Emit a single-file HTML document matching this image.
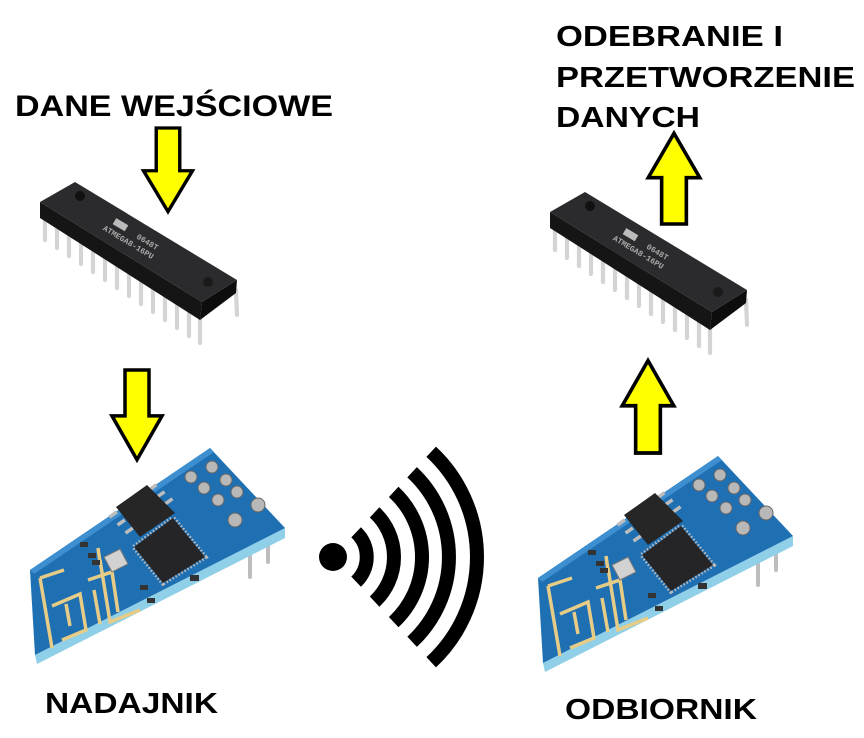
<!DOCTYPE html>
<html><head><meta charset="utf-8"><style>
html,body{margin:0;padding:0;background:#fff;}
svg{display:block;}
text{font-family:"Liberation Sans",sans-serif;font-weight:bold;fill:#000;}
</style></head><body>
<svg width="864" height="738" viewBox="0 0 864 738" xmlns="http://www.w3.org/2000/svg">
<defs>
<g id="chip">
  <g stroke="#d4d4d4" stroke-width="4.2" stroke-linecap="round">
    <line x1="45" y1="210" x2="45" y2="240"/>
    <line x1="57" y1="218" x2="57" y2="248"/>
    <line x1="69" y1="226" x2="69" y2="256"/>
    <line x1="81" y1="234" x2="81" y2="264"/>
    <line x1="93" y1="242" x2="93" y2="272"/>
    <line x1="105" y1="250" x2="105" y2="280"/>
    <line x1="117" y1="258" x2="117" y2="288"/>
    <line x1="129" y1="266" x2="129" y2="296"/>
    <line x1="141" y1="274" x2="141" y2="304"/>
    <line x1="153" y1="282" x2="153" y2="312"/>
    <line x1="165" y1="290" x2="165" y2="320"/>
    <line x1="177" y1="298" x2="177" y2="328"/>
    <line x1="189" y1="306" x2="189" y2="336"/>
    <line x1="200" y1="313" x2="200" y2="343"/>
    <line x1="236" y1="290" x2="237" y2="315"/>
  </g>
  <polygon points="40,202 202,302 200,320 40,218" fill="#151515"/>
  <polygon points="202,302 237,280 236,293 200,320" fill="#0d0d0d"/>
  <polygon points="40,202 75,182 237,280 202,302" fill="#2b2b2e"/>
  <circle cx="80" cy="196" r="5" fill="#111"/>
  <circle cx="208" cy="282" r="5" fill="#1a1a1a"/>
  <g transform="translate(130,238) rotate(31)" fill="#bbb">
    <rect x="-22" y="-10" width="14" height="7"/>
    <text x="-28" y="7" font-size="8" font-weight="normal" style="font-family:'Liberation Mono',monospace;fill:#aaa">ATMEGA8-16PU</text>
    <text x="5" y="-3" font-size="8" font-weight="normal" style="font-family:'Liberation Mono',monospace;fill:#aaa">0648T</text>
  </g>
</g>
<g id="module">
  <g stroke="#bdbdbd" stroke-width="4" stroke-linecap="round">
    <line x1="250" y1="550" x2="250" y2="577"/>
    <line x1="268" y1="540" x2="268" y2="562"/>
  </g>
  <polygon points="35,655 285,528 285,538 37,664" fill="#8fcfe8"/>
  <polygon points="30,570 210,448 285,528 35,655" fill="#1f6fb3"/>
  <polygon points="30,570 210,448 214,452 34,574" fill="#3d8fd0"/>
  <g fill="none" stroke="#e6cc86" stroke-width="3.5">
    <path d="M40,578 L52,648 M40,578 L64,570 M52,606 L80,594 L86,630 L62,640 M66,604 L70,626 M94,590 L100,624 M88,580 L112,572 L118,612 M100,560 L110,622 L140,610 M100,562 L98,548"/>
  </g>
  <g fill="#b8b8b8" stroke="#666" stroke-width="1">
    <circle cx="191" cy="477" r="6"/><circle cx="204" cy="488" r="6"/>
    <circle cx="212" cy="467" r="6"/><circle cx="226" cy="480" r="6"/>
    <circle cx="237" cy="492" r="6"/><circle cx="218" cy="500" r="6"/>
    <circle cx="258" cy="505" r="7"/><circle cx="235" cy="520" r="7"/>
  </g>
  <g fill="#bdbdbd">
    <rect x="148" y="486" width="9" height="3.5" transform="rotate(-35 152 487)"/>
    <rect x="156" y="493" width="9" height="3.5" transform="rotate(-35 160 494)"/>
    <rect x="164" y="500" width="9" height="3.5" transform="rotate(-35 168 501)"/>
    <rect x="108" y="512" width="9" height="3.5" transform="rotate(-35 114 513)"/>
    <rect x="116" y="520" width="9" height="3.5" transform="rotate(-35 122 521)"/>
    <rect x="124" y="528" width="9" height="3.5" transform="rotate(-35 130 529)"/>
  </g>
  <polygon points="116,507 147,485 175,513 140,537" fill="#262626"/>
  <polygon points="134,547 173,518 205,557 163,583" fill="none" stroke="#bbb" stroke-width="5" stroke-dasharray="1.5 2"/>
  <polygon points="134,547 173,518 205,557 163,583" fill="#252528"/>
  <polygon points="104,557 120,549 128,564 112,572" fill="#d2d2d2" stroke="#777"/>
  <g fill="#333">
    <rect x="80" y="542" width="8" height="5"/><rect x="88" y="553" width="8" height="5"/>
    <rect x="92" y="560" width="8" height="5"/><rect x="140" y="585" width="8" height="5"/>
    <rect x="147" y="598" width="8" height="5"/><rect x="190" y="575" width="9" height="6"/>
  </g>
</g>
<g id="arrowDown">
  <polygon points="-12,0 12,0 12,45 25,45 0,88 -25,45 -12,45" fill="#ffff00" stroke="#000" stroke-width="3.5" stroke-linejoin="miter"/>
</g>
</defs>

<text x="15" y="116" font-size="30" textLength="318" lengthAdjust="spacingAndGlyphs">DANE WEJŚCIOWE</text>
<text x="556" y="46" font-size="29" textLength="227" lengthAdjust="spacingAndGlyphs">ODEBRANIE I</text>
<text x="556" y="87" font-size="29" textLength="299" lengthAdjust="spacingAndGlyphs">PRZETWORZENIE</text>
<text x="556" y="127" font-size="29" textLength="144" lengthAdjust="spacingAndGlyphs">DANYCH</text>
<text x="45" y="713" font-size="29" textLength="173" lengthAdjust="spacingAndGlyphs">NADAJNIK</text>
<text x="565" y="719" font-size="29" textLength="192" lengthAdjust="spacingAndGlyphs">ODBIORNIK</text>

<use href="#chip"/>
<use href="#chip" transform="translate(510,10)"/>
<use href="#module"/>
<use href="#module" transform="translate(508,8)"/>

<use href="#arrowDown" transform="translate(168,128) scale(0.98,0.95)"/>
<use href="#arrowDown" transform="translate(137,370) scale(1,1.02)"/>
<use href="#arrowDown" transform="translate(674,224) scale(1.03,-1.03)"/>
<use href="#arrowDown" transform="translate(648,453) scale(1.03,-1.05)"/>

<circle cx="333" cy="557" r="14" fill="#000"/>
<g fill="none" stroke="#000" stroke-width="14">
  <path d="M356.1,532.3 A34,34 0 0 1 356.1,581.7"/>
  <path d="M374.6,512.4 A61,61 0 0 1 374.6,601.6"/>
  <path d="M393.7,491.9 A89,89 0 0 1 393.7,622.1"/>
  <path d="M412.1,472.2 A116,116 0 0 1 412.1,641.8"/>
  <path d="M431.2,451.7 A144,144 0 0 1 431.2,662.3"/>
</g>
</svg>
</body></html>
